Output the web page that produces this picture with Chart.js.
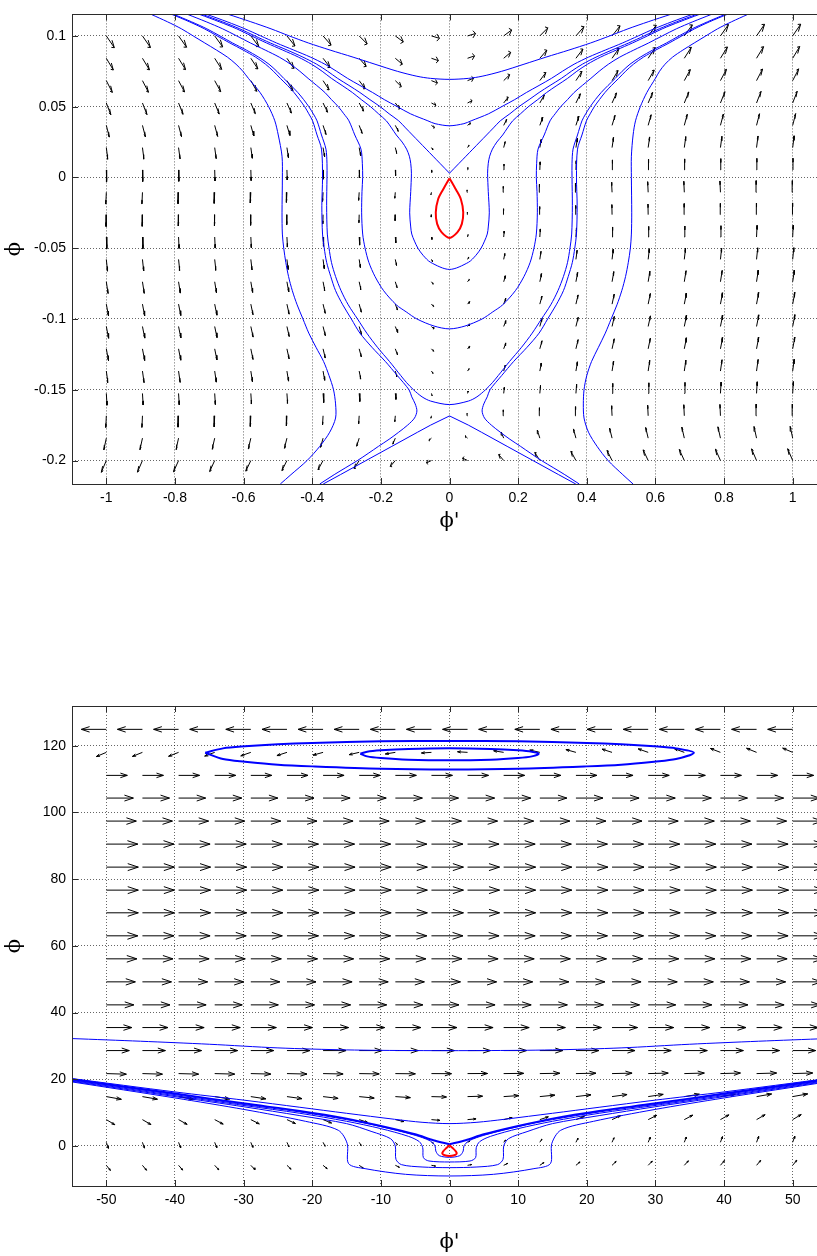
<!DOCTYPE html>
<html>
<head>
<meta charset="utf-8">
<script src="https://cdn.jsdelivr.net/npm/chart.js@4.4.0/dist/chart.umd.min.js"></script>
<style>
html, body { margin: 0; padding: 0; background: #fff; overflow: hidden; width: 817px; height: 1256px; }
#wrap { position: relative; width: 817px; height: 1256px; overflow: hidden; }
#topChart { position: absolute; left: 0; top: 0; }
#bottomChart { position: absolute; left: 0; top: 680px; }
</style>
</head>
<body>
<div id="wrap">
  <canvas id="topChart" width="840" height="540"></canvas>
  <canvas id="bottomChart" width="840" height="576"></canvas>
</div>
<script>
// ---------- top plot: quiver grid ----------
const topPhiPrime = [-1,-0.8947,-0.7895,-0.6842,-0.5789,-0.4737,-0.3684,-0.2632,-0.1579,-0.0526,0.0526,0.1579,0.2632,0.3684,0.4737,0.5789,0.6842,0.7895,0.8947,1];
const topPhi = [0.1,0.0842,0.0684,0.0526,0.0368,0.0211,0.0053,-0.0105,-0.0263,-0.0421,-0.0579,-0.0737,-0.0895,-0.1053,-0.1211,-0.1368,-0.1526,-0.1684,-0.1842,-0.2];
// horizontal arrow part per row, vertical arrow part per column
const topU = [0.0233,0.0204,0.0175,0.0131,0.0087,0.0044,0.0009,-0.0015,-0.0006,0.0015,0.0035,0.0052,0.0064,0.0067,0.0064,0.0047,0.0020,-0.0015,-0.0073,-0.0146];
const topV = [-0.0083,-0.0082,-0.0080,-0.0078,-0.0075,-0.0071,-0.0065,-0.0057,-0.0042,-0.0017,0.0017,0.0042,0.0057,0.0065,0.0071,0.0075,0.0078,0.0080,0.0082,0.0083];

// ---------- top plot: contour lines ----------
const aPhi = [0.1152,0.110,0.105,0.100,0.095,0.090,0.085,0.080,0.075,0.0715,0.070,0.0693];
const aLeft = [-0.644,-0.579,-0.520,-0.467,-0.411,-0.348,-0.281,-0.217,-0.152,-0.095,-0.055,0];
const aRight = [0.644,0.579,0.520,0.467,0.411,0.348,0.281,0.217,0.152,0.095,0.055];

const bPhi = [0.1152,0.110,0.105,0.100,0.095,0.090,0.085,0.080,0.075,0.070,0.065,0.060,0.055,0.050,0.045,0.040,0.038,0.0365];
const bLeft = [-0.707,-0.648,-0.596,-0.550,-0.504,-0.454,-0.405,-0.363,-0.329,-0.297,-0.261,-0.224,-0.190,-0.152,-0.114,-0.063,-0.042,0];
const bRight = [0.707,0.648,0.596,0.550,0.504,0.454,0.405,0.363,0.329,0.297,0.261,0.224,0.190,0.152,0.114,0.063,0.042];

const cPhi = [0.1152,0.110,0.105,0.100,0.095,0.090,0.085,0.080,0.075,0.070,0.065,0.060,0.055,0.050,0.045,0.040,0.035,0.030,0.025,0.020,0.015,0.010,0.003];
const cLeft = [-0.720,-0.662,-0.611,-0.567,-0.522,-0.473,-0.427,-0.387,-0.355,-0.326,-0.293,-0.261,-0.232,-0.202,-0.176,-0.148,-0.128,-0.108,-0.088,-0.068,-0.048,-0.028,0];
const cRight = [0.720,0.662,0.611,0.567,0.522,0.473,0.427,0.387,0.355,0.326,0.293,0.261,0.232,0.202,0.176,0.148,0.128,0.108,0.088,0.068,0.048,0.028,0];

const dPhi = [0.1152,0.110,0.105,0.100,0.095,0.090,0.085,0.080,0.075,0.070,0.065,0.060,0.055,0.050,0.045,0.040,0.035,0.030,0.025,0.020,0.015,0.010,0.003,-0.010,-0.025,-0.035,-0.040,-0.045,-0.050,-0.055,-0.060,-0.065];
const dLeft = [-0.728,-0.671,-0.620,-0.577,-0.533,-0.486,-0.440,-0.402,-0.371,-0.344,-0.313,-0.283,-0.257,-0.230,-0.207,-0.184,-0.169,-0.155,-0.138,-0.125,-0.117,-0.113,-0.111,-0.113,-0.116,-0.113,-0.110,-0.102,-0.092,-0.077,-0.055,0];
const dRight = [0.728,0.671,0.620,0.577,0.533,0.486,0.440,0.402,0.371,0.344,0.313,0.283,0.257,0.230,0.207,0.184,0.169,0.155,0.138,0.125,0.117,0.113,0.111,0.113,0.116,0.113,0.110,0.102,0.092,0.077,0.055];

const ePhi = [0.1152,0.110,0.105,0.100,0.095,0.090,0.085,0.080,0.075,0.070,0.065,0.060,0.055,0.050,0.045,0.040,0.030,0.020,0.010,0.000,-0.010,-0.025,-0.040,-0.050,-0.060,-0.070,-0.080,-0.090,-0.095,-0.100,-0.105,-0.107];
const eLeft = [-0.763,-0.709,-0.661,-0.620,-0.580,-0.537,-0.496,-0.463,-0.436,-0.412,-0.387,-0.363,-0.344,-0.324,-0.308,-0.293,-0.276,-0.258,-0.254,-0.253,-0.255,-0.256,-0.253,-0.246,-0.235,-0.217,-0.192,-0.155,-0.126,-0.095,-0.045,0];
const eRight = [0.763,0.709,0.661,0.620,0.580,0.537,0.496,0.463,0.436,0.412,0.387,0.363,0.344,0.324,0.308,0.293,0.276,0.258,0.254,0.253,0.255,0.256,0.253,0.246,0.235,0.217,0.192,0.155,0.126,0.095,0.045];

const fiPhi = [0.1152,0.110,0.105,0.100,0.095,0.090,0.085,0.080,0.075,0.070,0.065,0.060,0.055,0.050,0.045,0.040,0.030,0.020,0.010,0.000,-0.020,-0.040,-0.050,-0.060,-0.070,-0.080,-0.090,-0.100,-0.110,-0.120,-0.130,-0.140,-0.145,-0.150,-0.155,-0.158,-0.1605];
const fiLeft = [-0.803,-0.752,-0.707,-0.669,-0.632,-0.592,-0.556,-0.526,-0.503,-0.483,-0.462,-0.442,-0.425,-0.410,-0.397,-0.386,-0.373,-0.360,-0.357,-0.357,-0.358,-0.356,-0.351,-0.344,-0.332,-0.316,-0.295,-0.268,-0.241,-0.210,-0.175,-0.142,-0.125,-0.105,-0.080,-0.055,0];
const fiRight = [0.803,0.752,0.707,0.669,0.632,0.592,0.556,0.526,0.503,0.483,0.462,0.442,0.425,0.410,0.397,0.386,0.373,0.360,0.357,0.357,0.358,0.356,0.351,0.344,0.332,0.316,0.295,0.268,0.241,0.210,0.175,0.142,0.125,0.105,0.080,0.055];

const lamPhi = [-0.2166,-0.210,-0.200,-0.190,-0.180,-0.175,-0.1685];
const lamLeft = [-0.368,-0.318,-0.243,-0.168,-0.093,-0.055,0];
const lamRight = [0.368,0.318,0.243,0.168,0.093,0.055,0];

const foPhi = [0.1152,0.110,0.105,0.100,0.095,0.090,0.085,0.080,0.075,0.070,0.065,0.060,0.055,0.050,0.045,0.040,0.030,0.020,0.000,-0.020,-0.040,-0.050,-0.060,-0.070,-0.080,-0.090,-0.100,-0.110,-0.120,-0.130,-0.140,-0.150,-0.155,-0.160,-0.165,-0.170,-0.175,-0.180,-0.185,-0.190,-0.195,-0.200,-0.205,-0.210,-0.2166];
const foLeft = [-0.809,-0.758,-0.714,-0.677,-0.640,-0.601,-0.565,-0.536,-0.513,-0.493,-0.472,-0.453,-0.437,-0.422,-0.410,-0.399,-0.386,-0.373,-0.370,-0.372,-0.370,-0.365,-0.358,-0.346,-0.332,-0.311,-0.286,-0.261,-0.226,-0.187,-0.152,-0.118,-0.110,-0.100,-0.095,-0.102,-0.122,-0.148,-0.176,-0.207,-0.237,-0.268,-0.302,-0.336,-0.378];
const foRight = [0.809,0.758,0.714,0.677,0.640,0.601,0.565,0.536,0.513,0.493,0.472,0.453,0.437,0.422,0.410,0.399,0.386,0.373,0.370,0.372,0.370,0.365,0.358,0.346,0.332,0.311,0.286,0.261,0.226,0.187,0.152,0.118,0.110,0.100,0.095,0.102,0.122,0.148,0.176,0.207,0.237,0.268,0.302,0.336,0.378];

const gPhi = [0.1152,0.110,0.105,0.100,0.095,0.090,0.085,0.080,0.075,0.070,0.060,0.050,0.040,0.030,0.015,0.000,-0.025,-0.040,-0.050,-0.060,-0.070,-0.080,-0.090,-0.100,-0.110,-0.120,-0.130,-0.140,-0.150,-0.160,-0.170,-0.180,-0.190,-0.200,-0.210,-0.2166];
const gLeft = [-0.869,-0.822,-0.781,-0.747,-0.713,-0.679,-0.647,-0.622,-0.602,-0.586,-0.552,-0.527,-0.509,-0.499,-0.488,-0.487,-0.488,-0.487,-0.483,-0.477,-0.469,-0.458,-0.444,-0.427,-0.410,-0.389,-0.367,-0.351,-0.338,-0.332,-0.332,-0.349,-0.378,-0.415,-0.462,-0.493];
const gRight = [0.869,0.822,0.781,0.747,0.713,0.680,0.650,0.628,0.612,0.600,0.575,0.556,0.542,0.535,0.530,0.530,0.531,0.530,0.527,0.521,0.513,0.502,0.488,0.471,0.454,0.434,0.414,0.400,0.392,0.390,0.392,0.405,0.430,0.462,0.505,0.535];

const topRedX = [0,-0.0187,-0.0332,-0.040,-0.036,-0.0233,0,0.0233,0.036,0.040,0.0332,0.0187,0];
const topRedY = [-0.0005,-0.0085,-0.0154,-0.0247,-0.0328,-0.0386,-0.0427,-0.0386,-0.0328,-0.0247,-0.0154,-0.0085,-0.0005];

const topXTicks = [-1,-0.8,-0.6,-0.4,-0.2,0,0.2,0.4,0.6,0.8,1];
const topXLabels = ['-1','-0.8','-0.6','-0.4','-0.2','0','0.2','0.4','0.6','0.8','1'];
const topYTicks = [-0.2,-0.15,-0.1,-0.05,0,0.05,0.1];
const topYLabels = ['-0.2','-0.15','-0.1','-0.05','0','0.05','0.1'];

// ---------- bottom plot: quiver grid ----------
const botPhiPrime = [-50,-44.74,-39.47,-34.21,-28.95,-23.68,-18.42,-13.16,-7.89,-2.63,2.63,7.89,13.16,18.42,23.68,28.95,34.21,39.47,44.74,50];
const botPhi = [124.9,118.0,111.1,104.3,97.4,90.5,83.6,76.7,69.9,63.0,56.1,49.2,42.3,35.5,28.6,21.7,14.8,7.9,1.1,-5.8];
const botU = [-3.64,-1.46,3.06,3.94,4.37,4.59,4.66,4.66,4.66,4.59,4.45,4.23,4.01,3.72,3.35,2.92,2.19,1.24,0.3,0.6];
const botV = [-1.80,-1.74,-1.68,-1.59,-1.50,-1.38,-1.20,-0.99,-0.69,-0.27,0.27,0.69,0.99,1.20,1.38,1.50,1.59,1.68,1.74,1.80];
// how much of the vertical part shows in each row (read from the arrow tilts)
const botVRow = [0,0.7,0,0,0,0,0,0,0,0,0,0,0,0,0,0.1,0.45,0.85,1,0.85];

// ---------- bottom plot: contour lines ----------
const ellOutX = [-35.6,-33,-29.8,-25,-20,-10,0,10,20,25,29.8,33,35.6,33,29.8,25,20,10,0,-10,-20,-25,-29.8,-33,-35.6];
const ellOutY = [117.9,119.2,119.8,120.4,120.8,121.3,121.4,121.3,120.8,120.4,119.8,119.2,117.9,116.0,115.2,114.3,113.8,113.1,112.9,113.1,113.8,114.3,115.2,116.0,117.9];
const ellInX = [-13,-12,-10,-6,0,6,10,12,13,12,10,6,0,-6,-10,-12,-13];
const ellInY = [117.6,118.2,118.6,119.0,119.2,119.0,118.6,118.2,117.6,116.8,116.3,115.8,115.6,115.8,116.3,116.8,117.6];
const flatX = [-55,-45,-35,-25,-15,-5,5,15,25,35,45,55];
const flatY = [32.2,31.4,30.5,29.4,28.8,28.6,28.6,28.8,29.4,30.5,31.4,32.2];
const vTopX = [-55,-40,-29.8,-21.8,-15,-8,-4,0,4,8,15,21.8,29.8,40,55];
const vTopY = [20.2,16.2,13.7,11.6,9.8,8.0,7.1,6.7,7.1,8.0,9.8,11.6,13.7,16.2,20.2];
const sepLeftX = [-55,-40,-29.8,-21.8,-15,-10,-5,-2.35,0];
const sepLeftY = [20.0,15.7,12.7,10.5,8.2,6.0,3.5,1.7,0.5];
const sepRightX = [0,2.35,5,10,15,21.8,29.8,40,55];
const sepRightY = [0.5,1.7,3.5,6.0,8.2,10.5,12.7,15.7,20.0];
const u1X = [-55,-40,-29.8,-21.8,-15,-10,-5,-2.8,-2.1,-2.0,-1.5,0,1.5,2.0,2.1,2.8,5,10,15,21.8,29.8,40,55];
const u1Y = [19.8,15.4,12.4,10.2,7.9,5.8,3.2,1.5,0,-1.5,-2.9,-3.4,-2.9,-1.5,0,1.5,3.2,5.8,7.9,10.2,12.4,15.4,19.8];
const u2X = [-55,-40,-29.8,-21.8,-15,-10,-6,-4.4,-3.9,-3.8,-3,0,3,3.8,3.9,4.4,6,10,15,21.8,29.8,40,55];
const u2Y = [19.6,15.1,12.1,9.8,7.4,5.2,2.9,1.3,-0.5,-3.5,-4.5,-4.8,-4.5,-3.5,-0.5,1.3,2.9,5.2,7.4,9.8,12.1,15.1,19.6];
const u3X = [-55,-40,-29.8,-21.8,-15,-11.3,-8.6,-7.9,-7.8,-7,-4,0,4,7,7.8,7.9,8.6,11.3,15,21.8,29.8,40,55];
const u3Y = [19.4,14.8,11.7,9.1,6.7,4.3,2.2,0,-4.0,-5.6,-6.3,-6.5,-6.3,-5.6,-4.0,0,2.2,4.3,6.7,9.1,11.7,14.8,19.4];
const u4X = [-55,-40,-29.8,-21,-16.2,-14.9,-14.7,-12.3,-6.4,0,6.4,12.3,14.7,14.9,16.2,21,29.8,40,55];
const u4Y = [19.2,14.4,10.9,7.4,4.7,0.7,-5.3,-6.8,-8.5,-9.0,-8.5,-6.8,-5.3,0.7,4.7,7.4,10.9,14.4,19.2];
const botRedX = [0,-0.5,-0.95,-1.05,-0.7,0,0.7,1.05,0.95,0.5,0];
const botRedY = [0.2,-0.7,-1.7,-2.3,-2.8,-3.0,-2.8,-2.3,-1.7,-0.7,0.2];

const botXTicks = [-50,-40,-30,-20,-10,0,10,20,30,40,50];
const botXLabels = ['-50','-40','-30','-20','-10','0','10','20','30','40','50'];
const botYTicks = [0,20,40,60,80,100,120];
const botYLabels = ['0','20','40','60','80','100','120'];

// ---------- helpers ----------
const BLUE = '#0000ff';
const HEAD = 0.33, SPREAD = 0.33; // matlab-style arrow head

function path(xs, ys) {
     return xs.map((x, i) => ({ x: x, y: ys[i] }));
}

// left half top->bottom, then right half back up
function bowl(phi, left, right) {
     const pts = left.map((x, i) => ({ x: x, y: phi[i] }));
     for (let i = right.length - 1; i >= 0; i--) {
          pts.push({ x: right[i], y: phi[i] });
     }
     return pts;
}

// aspect = (px per x unit) / (px per y unit) used for the head barbs; 1 keeps them in data units
function quiver(xs, ys, us, vs, rowPart, aspect) {
     const pts = [];
     ys.forEach(function (y, r) {
          xs.forEach(function (x, c) {
               const u = us[r], v = vs[c] * (rowPart ? rowPart[r] : 1);
               const tx = x + u, ty = y + v;
               pts.push({ x: x, y: y }, { x: tx, y: ty }, { x: tx, y: null });
               pts.push({ x: tx - HEAD * (u + SPREAD * v / aspect), y: ty - HEAD * (v - SPREAD * u * aspect) });
               pts.push({ x: tx, y: ty });
               pts.push({ x: tx - HEAD * (u - SPREAD * v / aspect), y: ty - HEAD * (v + SPREAD * u * aspect) });
               pts.push({ x: tx, y: null });
          });
     });
     return pts;
}

function line(data, color, width, tension) {
     return { data: data, borderColor: color, borderWidth: width, tension: tension, pointRadius: 0, fill: false };
}

// frame + inward tick marks, like the matlab axes box
const boxPlugin = {
     id: 'box',
     afterDraw(chart) {
          const { ctx, chartArea: a, scales } = chart;
          ctx.save();
          ctx.strokeStyle = '#2b2b2b';
          ctx.lineWidth = 1;
          ctx.strokeRect(Math.round(a.left) + 0.5, Math.round(a.top) + 0.5, Math.round(a.right - a.left), Math.round(a.bottom - a.top));
          ctx.beginPath();
          scales.x.ticks.forEach(t => {
               const px = Math.round(scales.x.getPixelForValue(t.value)) + 0.5;
               ctx.moveTo(px, a.bottom); ctx.lineTo(px, a.bottom - 6);
               ctx.moveTo(px, a.top); ctx.lineTo(px, a.top + 6);
          });
          scales.y.ticks.forEach(t => {
               const py = Math.round(scales.y.getPixelForValue(t.value)) + 0.5;
               ctx.moveTo(a.left, py); ctx.lineTo(a.left + 6, py);
               ctx.moveTo(a.right, py); ctx.lineTo(a.right - 6, py);
          });
          ctx.stroke();
          ctx.restore();
     }
};

function axisOptions(range, ticks, labels, fit, title) {
     return {
          type: 'linear',
          min: range[0],
          max: range[1],
          afterBuildTicks: function (scale) {
               scale.ticks = ticks.map(v => ({ value: v }));
          },
          afterFit: fit,
          grid: { color: 'rgba(0,0,0,0.6)', lineWidth: 1, drawTicks: false },
          border: { display: false, dash: [1, 2] },
          ticks: {
               autoSkip: false,
               maxRotation: 0,
               padding: 6,
               color: '#000',
               font: { family: "'Liberation Sans', Arial, sans-serif", size: 14 },
               callback: function (value) {
                    const i = ticks.indexOf(value);
                    return i >= 0 ? labels[i] : '';
               }
          },
          title: title
     };
}

function makeChart(id, datasets, xr, xt, xl, yr, yt, yl, padTop, xAxisH, xTitlePad) {
     return new Chart(document.getElementById(id), {
          type: 'line',
          data: { datasets: datasets },
          options: {
               responsive: false,
               animation: false,
               events: [],
               layout: { padding: { top: padTop, right: 13, left: 0, bottom: 0 } },
               elements: { point: { radius: 0 }, line: { capBezierPoints: false, borderJoinStyle: 'round' } },
               plugins: { legend: { display: false }, tooltip: { enabled: false } },
               scales: {
                    x: axisOptions(xr, xt, xl, s => { s.height = xAxisH; }, {
                         display: true, text: "ϕ'", color: '#000',
                         font: { family: "'DejaVu Serif', serif", size: 21 },
                         padding: { top: 0, bottom: xTitlePad }
                    }),
                    y: axisOptions(yr, yt, yl, s => { s.width = 72; }, {
                         display: true, text: 'ϕ', color: '#000',
                         font: { family: "'DejaVu Serif', serif", size: 21 },
                         padding: { top: 2, bottom: 0 }
                    })
               }
          },
          plugins: [boxPlugin]
     });
}

document.addEventListener('DOMContentLoaded', function () {
     const topSets = [
          line(path(topRedX, topRedY), '#ff0000', 2, 0.3),
          line(bowl(aPhi, aLeft, aRight), BLUE, 1, 0.3),
          line(bowl(bPhi, bLeft, bRight), BLUE, 1, 0.3),
          line(path(cLeft, cPhi), BLUE, 1, 0.3),
          line(path(cRight, cPhi), BLUE, 1, 0.3),
          line(bowl(dPhi, dLeft, dRight), BLUE, 1, 0.3),
          line(bowl(ePhi, eLeft, eRight), BLUE, 1, 0.3),
          line(bowl(fiPhi, fiLeft, fiRight), BLUE, 1, 0.3),
          line(path(lamLeft, lamPhi), BLUE, 1, 0),
          line(path(lamRight, lamPhi), BLUE, 1, 0),
          line(path(foLeft, foPhi), BLUE, 1, 0.3),
          line(path(foRight, foPhi), BLUE, 1, 0.3),
          line(path(gLeft, gPhi), BLUE, 1, 0.3),
          line(path(gRight, gPhi), BLUE, 1, 0.3),
          line(quiver(topPhiPrime, topPhi, topU, topV, null, 1), '#000', 1, 0)
     ];
     makeChart('topChart', topSets, [-1.1, 1.1], topXTicks, topXLabels,
          [-0.2166, 0.1152], topYTicks, topYLabels, 5, 56, 6);

     const botSets = [
          line(path(botRedX, botRedY), '#ff0000', 2, 0.3),
          line(path(ellOutX, ellOutY), BLUE, 2, 0.3),
          line(path(ellInX, ellInY), BLUE, 2, 0.3),
          line(path(flatX, flatY), BLUE, 1, 0.3),
          line(path(vTopX, vTopY), BLUE, 1, 0.3),
          line(path(sepLeftX, sepLeftY), BLUE, 2, 0.3),
          line(path(sepRightX, sepRightY), BLUE, 2, 0.3),
          line(path(u1X, u1Y), BLUE, 1, 0.3),
          line(path(u2X, u2Y), BLUE, 1, 0.3),
          line(path(u3X, u3Y), BLUE, 1, 0.3),
          line(path(u4X, u4Y), BLUE, 1, 0.3),
          line(quiver(botPhiPrime, botPhi, botU, botV, botVRow, 2.06), '#000', 1, 0)
     ];
     makeChart('bottomChart', botSets, [-55, 55], botXTicks, botXLabels,
          [-12, 131.9], botYTicks, botYLabels, 26, 70, 1);
});
</script>
</body>
</html>
